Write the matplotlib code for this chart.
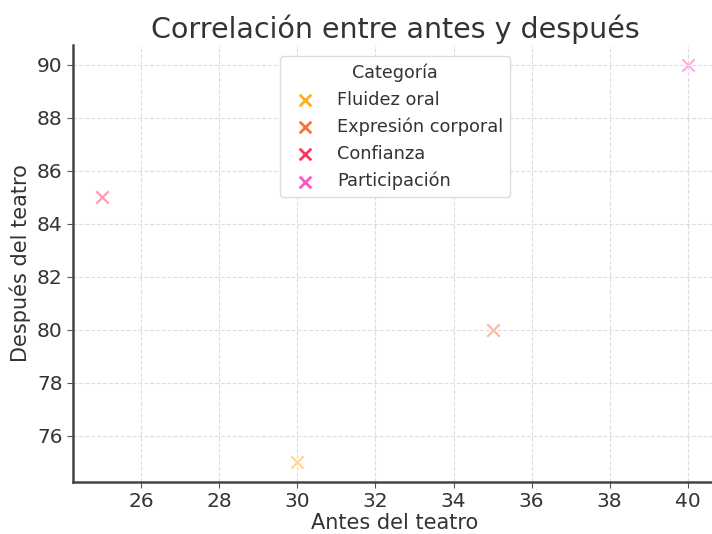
import matplotlib.pyplot as plt

categorias = ["Fluidez oral", "Expresión corporal", "Confianza", "Participación"]
antes = [30, 35, 25, 40]
despues = [75, 80, 85, 90]
colores = ["#FFB020", "#FF7035", "#FF3560", "#FF55C8"]

fig = plt.figure(figsize=(7.12, 5.34), dpi=100)
ax = fig.add_axes([73 / 712, 52 / 534, 644 / 712, 437 / 534])

for cat, x, y, c in zip(categorias, antes, despues, colores):
    ax.scatter(x, y, marker="x", s=80, color=c, alpha=0.5, linewidths=1.5)
    # legend handle at full opacity
    ax.scatter([], [], marker="x", s=70, color=c, linewidths=2, label=cat)

ax.set_title("Correlación entre antes y después", fontsize=20.5, color="#333333", pad=5)
ax.set_xlabel("Antes del teatro", fontsize=15, color="#333333", labelpad=1)
ax.set_ylabel("Después del teatro", fontsize=15, color="#333333", labelpad=4)
ax.tick_params(labelsize=14.5, colors="#333333", length=4, color="#555555")

ax.grid(True, linestyle="--", color="#dddddd", linewidth=0.8)
for s in ["top", "right"]:
    ax.spines[s].set_visible(False)
for s in ["left", "bottom"]:
    ax.spines[s].set_linewidth(1.8)
    ax.spines[s].set_color("#444444")

leg = ax.legend(title="Categoría", loc="upper center", fontsize=12.8, title_fontsize=12.6,
                frameon=True, framealpha=1, edgecolor="#dddddd",
                bbox_to_anchor=(0.5, 0.995))
for t in leg.get_texts():
    t.set_color("#333333")
leg.get_title().set_color("#333333")

fig.savefig("out.png", dpi=100)
